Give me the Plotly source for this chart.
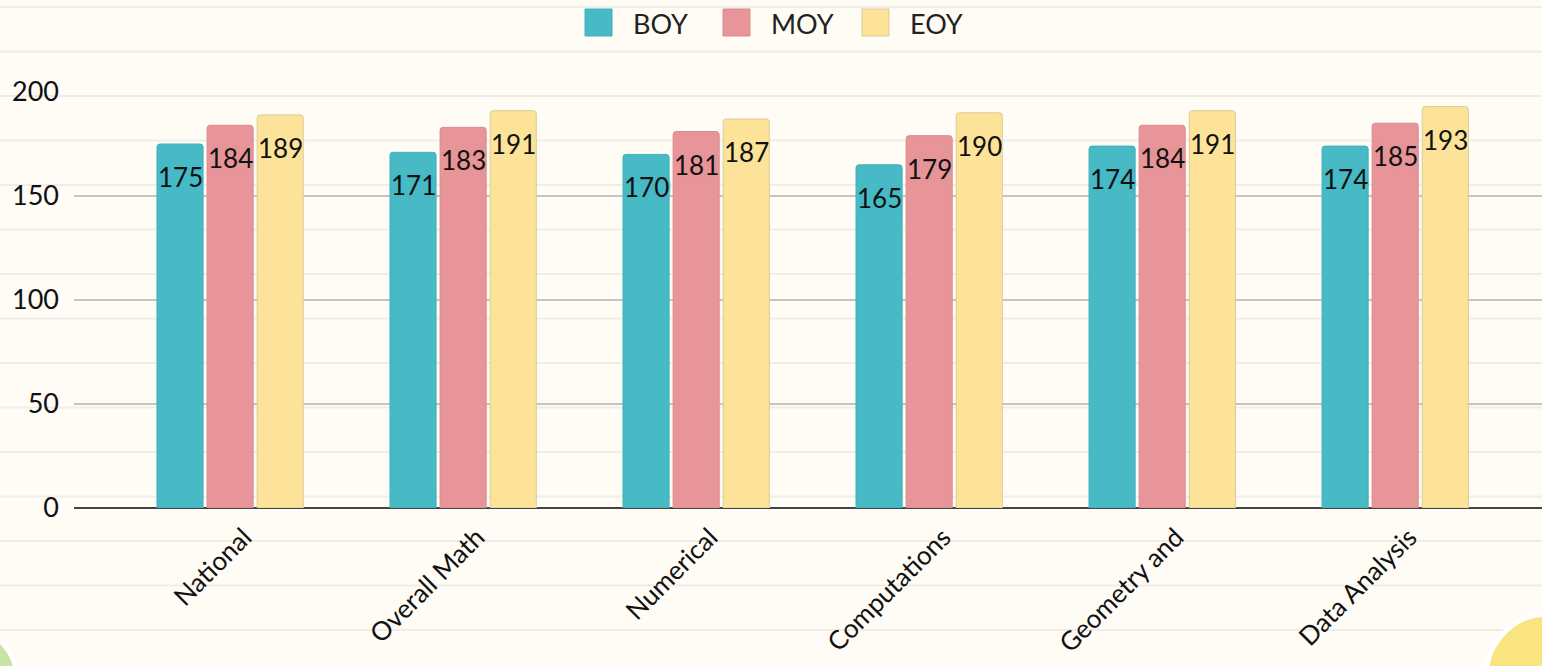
import plotly.graph_objects as go

categories = ["National", "Overall Math", "Numerical", "Computations", "Geometry and", "Data Analysis"]
series_names = ["BOY", "MOY", "EOY"]
boy = [175, 171, 170, 165, 174, 174]
moy = [184, 183, 181, 179, 184, 185]
eoy = [189, 191, 187, 190, 191, 193]
y_ticks = [0, 50, 100, 150, 200]

colors = ["#47BAC6", "#E79598", "#FDE399"]
edges = ["#42B0BB", "#DA8C8F", "#DCCB94"]
series = [boy, moy, eoy]

W, H = 1542, 666
L, T, B = 74, 92, 158
PW = W - L
PH = H - T - B

def px(x):
    return (x - L) / PW

def py(y):
    return (H - B - y) / PH

FONT = "Lato, 'Open Sans', sans-serif"
BG = "#FEFCF5"

fig = go.Figure()
for name, vals, c, e in zip(series_names, series, colors, edges):
    fig.add_trace(go.Bar(
        x=list(range(len(categories))), y=vals, name=name,
        marker=dict(color=c, line=dict(color=e, width=1)),
        showlegend=False, hoverinfo="y",
    ))

annotations = []
offsets = [-50, 0, 50]
for vals, c, off in zip(series, colors, offsets):
    for i, v in enumerate(vals):
        annotations.append(dict(
            x=i, y=v, xref="x", yref="y", text=str(v), showarrow=False,
            xshift=off, yshift=-33, xanchor="center", yanchor="middle",
            font=dict(family=FONT, size=26, color="#111111",
                      shadow=f"1px 1px 2px {c}, -1px -1px 2px {c}, 1px -1px 2px {c}, -1px 1px 2px {c}"),
        ))

# custom legend
shapes = []
leg_x = [585, 723, 862]
for name, c, e, lx in zip(series_names, colors, edges, leg_x):
    shapes.append(dict(type="rect", xref="paper", yref="paper",
                       x0=px(lx), x1=px(lx + 27), y0=py(36), y1=py(9),
                       fillcolor=c, line=dict(color=e, width=1), layer="above"))
    annotations.append(dict(x=px(lx + 46), y=py(23), xref="paper", yref="paper",
                            text=name, showarrow=False, xanchor="left", yanchor="middle",
                            font=dict(family=FONT, size=27, color="#222222")))

# notebook paper lines
for k in range(15):
    yy = 7 + 44.5 * k
    shapes.append(dict(type="line", xref="paper", yref="paper",
                       x0=px(0), x1=px(W), y0=py(yy), y1=py(yy),
                       line=dict(color="#EFEDE8", width=2), layer="below"))

# corner decorations
shapes.append(dict(type="circle", xref="paper", yref="paper",
                   x0=px(1486), x1=px(1610), y0=py(740), y1=py(614),
                   fillcolor="#F9E47F", line=dict(color="#FFFFFF", width=5), layer="above"))
shapes.append(dict(type="circle", xref="paper", yref="paper",
                   x0=px(-80), x1=px(18), y0=py(740), y1=py(628),
                   fillcolor="#C9E4A4", line=dict(color="#FFFFFF", width=5), layer="above"))

fig.update_layout(
    width=W, height=H,
    margin=dict(l=L, r=0, t=T, b=B, autoexpand=False),
    paper_bgcolor=BG, plot_bgcolor="rgba(0,0,0,0)",
    barmode="group", bargap=0.355, bargroupgap=0.08, barcornerradius=3,
    font=dict(family=FONT, size=25, color="#222222"),
    annotations=annotations, shapes=shapes,
    showlegend=False,
    xaxis=dict(
        range=[-0.67, 5.63], tickmode="array", automargin=False,
        tickvals=list(range(len(categories))), ticktext=categories,
        tickangle=-45, showgrid=False, zeroline=False, showline=False,
        tickfont=dict(family=FONT, size=26, color="#111111"), ticks="",
        ticklabelshift=14, ticklabelstandoff=8,
    ),
    yaxis=dict(
        range=[0, 200], tickmode="array", tickvals=y_ticks, automargin=False,
        showgrid=True, gridcolor="#C4C4C4", gridwidth=2,
        zeroline=True, zerolinecolor="#444444", zerolinewidth=2,
        showline=False, ticks="", ticklabelstandoff=14,
        tickfont=dict(family=FONT, size=27, color="#111111"),
    ),
)

fig.write_html(
    "out.html",
    config={"displayModeBar": False},
    post_script="document.body.style.margin='0';document.body.style.background='" + BG + "';document.body.style.overflow='hidden';",
)
